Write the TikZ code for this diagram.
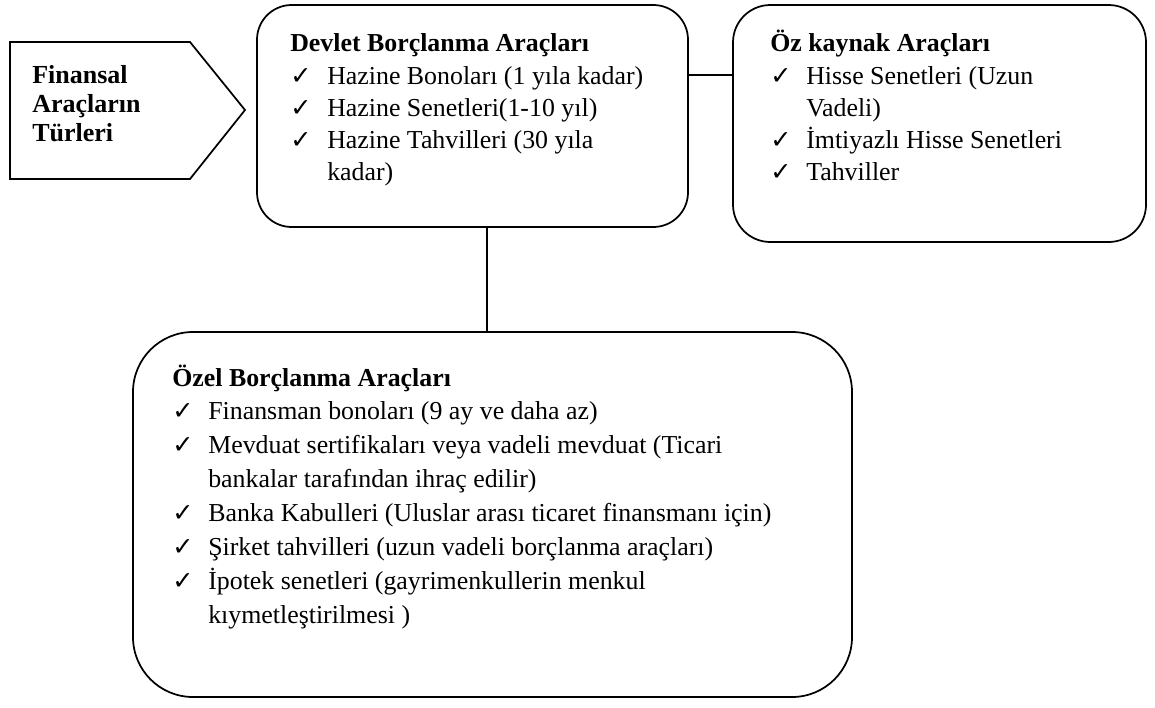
\documentclass[tikz,border=0pt]{standalone}
\usepackage{fontspec}
\setmainfont{Liberation Serif}
\newfontfamily\symfont{DejaVu Sans}
\newcommand{\ck}{{\symfont\fontsize{19}{19}\selectfont ✓}}
\begin{document}
\begin{tikzpicture}[x=0.75pt,y=-0.75pt,
  box/.style={draw, line width=1.3pt, inner sep=0pt, outer sep=0pt},
  conn/.style={draw, line width=1.3pt},
  txt/.style={anchor=base west, inner sep=0pt, font=\fontsize{19.4}{23}\selectfont},
  ttl/.style={anchor=base west, inner sep=0pt, font=\fontsize{19.4}{23}\selectfont\bfseries},
  ftl/.style={anchor=base west, inner sep=0pt, font=\fontsize{19.5}{23}\selectfont\bfseries},
  tick/.style={anchor=base west, inner sep=0pt}
]
\useasboundingbox (0,0) rectangle (1155,707);

% left pentagon
\draw[line width=1.3pt] (10,42) -- (190,42) -- (245,110) -- (190,179) -- (10,179) -- cycle;
\node[ftl] (f1) at (32,83) {Finansal};
\node[ftl] (f2) at (32,112) {Araçların};
\node[ftl] (f3) at (32,141) {Türleri};

% boxes
\node[box, rounded corners=26pt, minimum width=323.25pt, minimum height=166.5pt] (dev) at (472.5,116) {};
\node[box, rounded corners=28pt, minimum width=309.75pt, minimum height=177.75pt] (oz) at (939.5,123.5) {};
\node[box, rounded corners=45pt, minimum width=539.25pt, minimum height=273.75pt] (ozel) at (492.5,514.5) {};

% connectors
\path (dev.north east) ++(0,70) coordinate (c1);
\draw[conn] (c1) -- (c1 -| oz.west);
\draw[conn] ([xshift=10.9pt]dev.south) -- ([xshift=10.9pt]dev.south |- ozel.north);

% Devlet
\node[ttl] (d0) at (290,51) {Devlet Borçlanma Araçları};
\node[tick] (dk1) at (290,84) {\ck};
\node[txt] (d1) at (327,84) {Hazine Bonoları (1 yıla kadar)};
\node[tick] (dk2) at (290,116) {\ck};
\node[txt] (d2) at (327,116) {Hazine Senetleri(1-10 yıl)};
\node[tick] (dk3) at (290,148) {\ck};
\node[txt] (d3) at (327,148) {Hazine Tahvilleri (30 yıla};
\node[txt] (d4) at (327,180) {kadar)};

% Oz kaynak
\node[ttl] (o0) at (770,51) {Öz kaynak Araçları};
\node[tick] (ok1) at (770,84) {\ck};
\node[txt] (o1) at (806,84) {Hisse Senetleri (Uzun};
\node[txt] (o2) at (806,116) {Vadeli)};
\node[tick] (ok3) at (770,148) {\ck};
\node[txt] (o3) at (806,148) {İmtiyazlı Hisse Senetleri};
\node[tick] (ok4) at (770,180) {\ck};
\node[txt] (o4) at (806,180) {Tahviller};

% Ozel
\node[ttl] (p0) at (172,386) {Özel Borçlanma Araçları};
\node[tick] (pk1) at (172,419) {\ck};
\node[txt] (p1) at (208,419) {Finansman bonoları (9 ay ve daha az)};
\node[tick] (pk2) at (172,453) {\ck};
\node[txt] (p2) at (208,453) {Mevduat sertifikaları veya vadeli mevduat (Ticari};
\node[txt] (p3) at (208,487) {bankalar tarafından ihraç edilir)};
\node[tick] (pk4) at (172,521) {\ck};
\node[txt] (p4) at (208,521) {Banka Kabulleri (Uluslar arası ticaret finansmanı için)};
\node[tick] (pk5) at (172,555) {\ck};
\node[txt] (p5) at (208,555) {Şirket tahvilleri (uzun vadeli borçlanma araçları)};
\node[tick] (pk6) at (172,589) {\ck};
\node[txt] (p6) at (208,589) {İpotek senetleri (gayrimenkullerin menkul};
\node[txt] (p7) at (208,623) {kıymetleştirilmesi )};
\end{tikzpicture}
\end{document}
